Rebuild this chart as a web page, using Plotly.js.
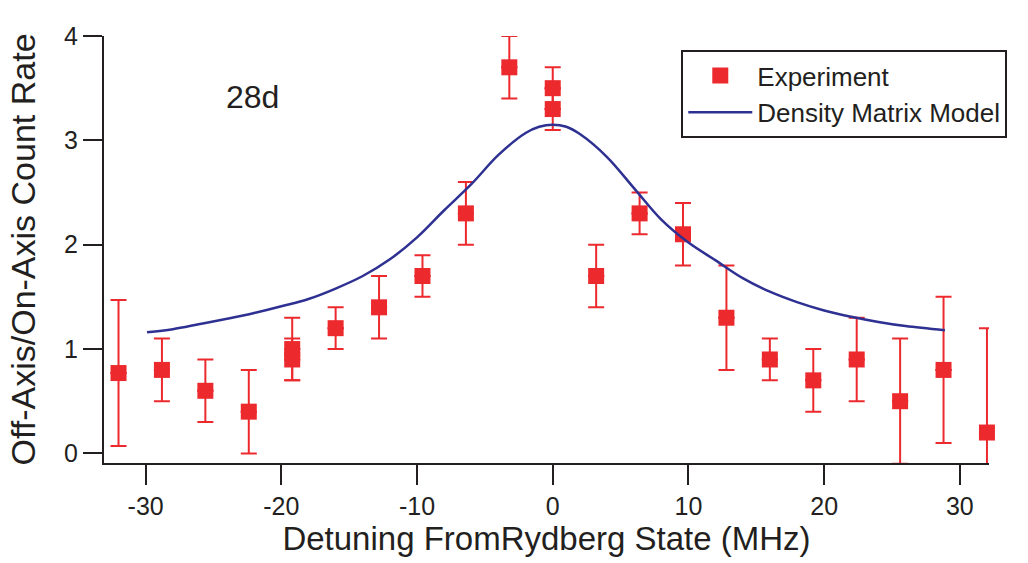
<!DOCTYPE html>
<html>
<head>
<meta charset="utf-8">
<script src="https://cdn.plot.ly/plotly-3.0.1.min.js"></script>
<style>
  html, body { margin: 0; padding: 0; background: #ffffff; }
  #chart { width: 1028px; height: 563px; }
</style>
</head>
<body>
<div id="chart"></div>
<script>
// Measured off-axis / on-axis count ratio versus detuning (MHz), with 1-sigma errors
const detuning   = [-32, -28.8, -25.6, -22.4, -19.2, -19.2, -16, -12.8, -9.6, -6.4, -3.2, 0, 0, 3.2, 6.4, 9.6, 12.8, 16, 19.2, 22.4, 25.6, 28.8, 32];
const countRatio = [0.77, 0.8, 0.6, 0.4, 1.0, 0.9, 1.2, 1.4, 1.7, 2.3, 3.7, 3.5, 3.3, 1.7, 2.3, 2.1, 1.3, 0.9, 0.7, 0.9, 0.5, 0.8, 0.2];
const countError = [0.7, 0.3, 0.3, 0.4, 0.3, 0.2, 0.2, 0.3, 0.2, 0.3, 0.3, 0.2, 0.2, 0.3, 0.2, 0.3, 0.5, 0.2, 0.3, 0.4, 0.6, 0.7, 1.0];

// Density matrix model prediction
const modelDetuning = [-29.9, -28, -26, -24, -22, -20, -18, -16, -14, -12, -10, -8, -6, -4, -2, -1, 0, 1, 2, 4, 6, 8, 10, 12, 14, 16, 18, 20, 22, 24, 26, 28.9];
const modelRatio    = [1.16, 1.19, 1.24, 1.29, 1.345, 1.41, 1.48, 1.58, 1.70, 1.86, 2.07, 2.33, 2.58, 2.86, 3.07, 3.13, 3.15, 3.13, 3.06, 2.84, 2.54, 2.24, 2.02, 1.85, 1.68, 1.55, 1.45, 1.37, 1.31, 1.26, 1.22, 1.18];

// Axis ticks
const xTickVals = [-30, -20, -10, 0, 10, 20, 30];
const xTickText = ['-30', '-20', '-10', '0', '10', '20', '30'];
const yTickVals = [0, 1, 2, 3, 4];
const yTickText = ['0', '1', '2', '3', '4'];

const RED = '#ec2a2e';
const BLUE = '#2e3192';
const INK = '#231f20';
const FONT = 'Liberation Sans, Arial, Helvetica, sans-serif';

const noError = countError.map(() => 0);
const barStyle = { type: 'data', visible: true, symmetric: false, color: RED, thickness: 2, width: 8 };

const traces = [
  {
    // lower half of each error bar, cut off at the axis
    x: detuning, y: countRatio,
    type: 'scatter', mode: 'markers',
    marker: { size: 1, color: 'rgba(0,0,0,0)' },
    error_y: Object.assign({}, barStyle, { array: noError, arrayminus: countError }),
    cliponaxis: true, showlegend: false, hoverinfo: 'skip'
  },
  {
    // upper half of each error bar
    x: detuning, y: countRatio,
    type: 'scatter', mode: 'markers',
    marker: { size: 1, color: 'rgba(0,0,0,0)' },
    error_y: Object.assign({}, barStyle, { array: countError, arrayminus: noError }),
    cliponaxis: false, showlegend: false, hoverinfo: 'skip'
  },
  {
    name: 'Experiment',
    x: detuning, y: countRatio,
    type: 'scatter', mode: 'markers',
    marker: { symbol: 'square', size: 16, color: RED, line: { width: 0 } },
    cliponaxis: false
  },
  {
    name: 'Density Matrix Model',
    x: modelDetuning, y: modelRatio,
    type: 'scatter', mode: 'lines',
    line: { color: BLUE, width: 2.5, shape: 'spline', smoothing: 1 }
  }
];

const axisCommon = {
  showline: true, linewidth: 2, linecolor: INK,
  ticks: 'outside', tickwidth: 2, tickcolor: INK,
  showgrid: false, zeroline: false,
  tickfont: { family: FONT, size: 25, color: INK }
};

const layout = {
  width: 1028, height: 563,
  margin: { l: 104, r: 39, t: 36, b: 100 },
  paper_bgcolor: '#ffffff', plot_bgcolor: '#ffffff',
  font: { family: FONT, color: INK },
  xaxis: Object.assign({}, axisCommon, {
    range: [-33.07, 32.15],
    tickmode: 'array', tickvals: xTickVals, ticktext: xTickText,
    ticklen: 20,
    title: { text: 'Detuning FromRydberg State (MHz)', font: { family: FONT, size: 33, color: INK }, standoff: 3 }
  }),
  yaxis: Object.assign({}, axisCommon, {
    range: [-0.092, 4.0],
    tickmode: 'array', tickvals: yTickVals, ticktext: yTickText,
    ticklen: 19,
    title: { text: 'Off-Axis/On-Axis Count Rate', font: { family: FONT, size: 34, color: INK }, standoff: 18 }
  }),
  legend: {
    x: 0.6523, y: 0.967, xanchor: 'left', yanchor: 'top',
    bgcolor: '#ffffff', bordercolor: INK, borderwidth: 2,
    font: { family: FONT, size: 26, color: INK },
    itemwidth: 64
  },
  annotations: [
    { x: -22.1, y: 3.42, xref: 'x', yref: 'y', text: '28d', showarrow: false,
      xanchor: 'center', yanchor: 'middle', font: { family: FONT, size: 32, color: INK } }
  ],
  showlegend: true
};

Plotly.newPlot('chart', traces, layout, { displayModeBar: false, staticPlot: true });
</script>
</body>
</html>
